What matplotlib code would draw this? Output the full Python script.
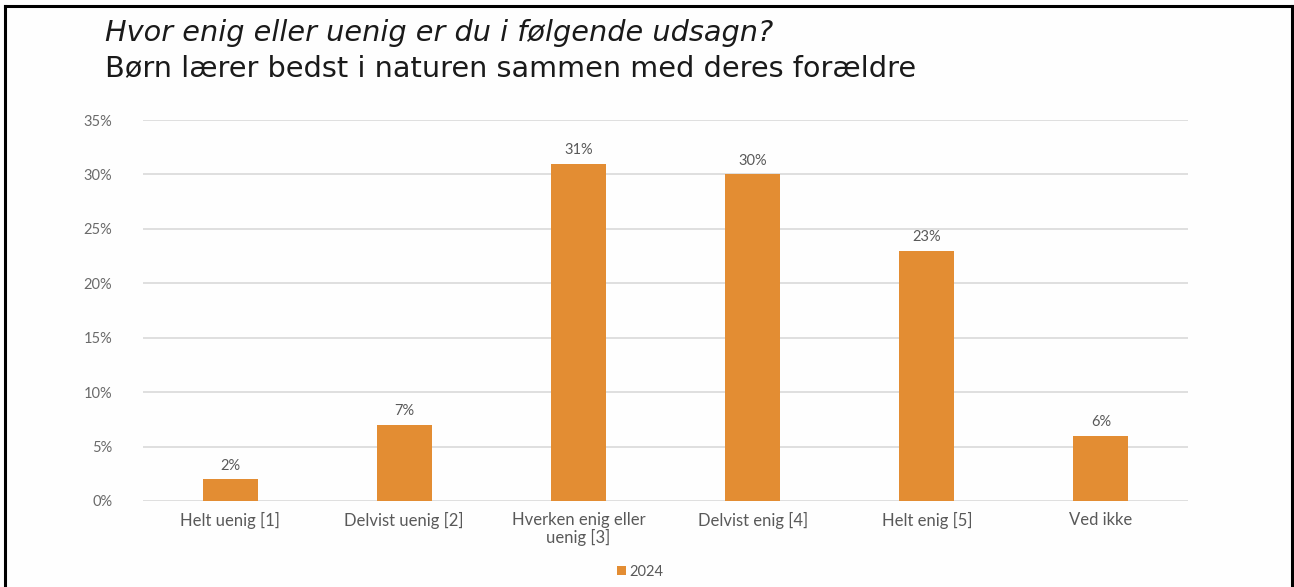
import matplotlib.pyplot as plt
import numpy as np
from matplotlib.lines import Line2D

# data
categories = ["Helt uenig [1]", "Delvist uenig [2]", "Hverken enig eller\nuenig [3]",
              "Delvist enig [4]", "Helt enig [5]", "Ved ikke"]
values_2024 = [2, 7, 31, 30, 23, 6]
series_name = "2024"
yticks = [0, 5, 10, 15, 20, 25, 30, 35]

W, H = 1294, 587
fig = plt.figure(figsize=(W / 100, H / 100), dpi=100)
fig.patch.set_facecolor("#fefefe")

# plot area in pixels: x 143..1188, y 120..501
ax = fig.add_axes([143 / W, 1 - 501 / H, (1188 - 143) / W, (501 - 120) / H])
ax.set_facecolor("none")

bar_color = "#e38d33"
x = np.arange(len(categories))
ax.bar(x, values_2024, width=0.315, color=bar_color, zorder=3, label=series_name)

for xi, v in zip(x, values_2024):
    ax.text(xi, v + 0.6, f"{v}%", ha="center", va="bottom",
            fontsize=10.5, color="#595959", family="Lato")

ax.set_xlim(-0.5, len(categories) - 0.5)
ax.set_ylim(0, 35)
ax.set_yticks(yticks)
ax.set_yticklabels([f"{t}%" for t in yticks], fontsize=10.5, color="#6a6a6a", family="Lato")
ax.yaxis.grid(True, color="#d9d9d9", linewidth=1.2, zorder=0)
ax.set_xticks(x)
ax.set_xticklabels(categories, fontsize=12, color="#595959", family="Lato", linespacing=1.05)
ax.tick_params(axis="both", length=0)
ax.tick_params(axis="y", pad=22)
ax.tick_params(axis="x", pad=8)
for s in ax.spines.values():
    s.set_visible(False)

# legend
ax.legend(loc="center", bbox_to_anchor=((640 - 143) / (1188 - 143), -(572 - 501) / (501 - 120)),
          frameon=False, handlelength=0.6, handleheight=0.6, handletextpad=0.2,
          prop={"family": "Lato", "size": 10.5}, labelcolor="#595959")

# titles
fig.text(105 / W, 1 - 33 / H, "Hvor enig eller uenig er du i følgende udsagn?",
         fontsize=20.7, style="italic", family="DejaVu Sans", color="#1a1a1a", va="center")
fig.text(105 / W, 1 - 68 / H, "Børn lærer bedst i naturen sammen med deres forældre",
         fontsize=20.7, family="DejaVu Sans", color="#1a1a1a", va="center")

# frame
lw = 2.2
fig.add_artist(Line2D([5 / W, 5 / W], [0, 1 - 6 / H], transform=fig.transFigure, color="black", lw=lw))
fig.add_artist(Line2D([5 / W, 1292 / W], [1 - 6 / H, 1 - 6 / H], transform=fig.transFigure, color="black", lw=lw))
fig.add_artist(Line2D([1292 / W, 1292 / W], [0, 1 - 6 / H], transform=fig.transFigure, color="black", lw=lw))

fig.savefig("out.png", dpi=100, facecolor=fig.get_facecolor())
